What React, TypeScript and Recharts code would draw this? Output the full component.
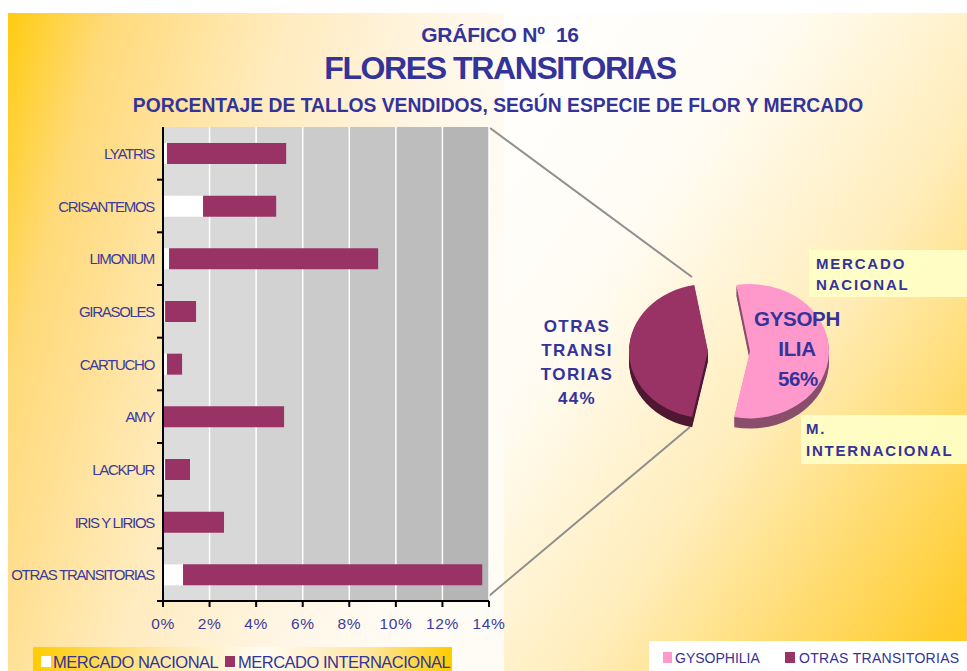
import React from 'react';
import { BarChart, Bar, XAxis, YAxis, CartesianGrid, PieChart, Pie, Cell } from 'recharts';

// ---------- data ----------
const categories = [
  'LYATRIS',
  'CRISANTEMOS',
  'LIMONIUM',
  'GIRASOLES',
  'CARTUCHO',
  'AMY',
  'LACKPUR',
  'IRIS Y LIRIOS',
  'OTRAS TRANSITORIAS',
];
const mercadoNacional = [0.17, 1.72, 0.26, 0.09, 0.17, 0.03, 0.09, 0.03, 0.86];
const mercadoInternacional = [5.12, 3.14, 8.98, 1.33, 0.65, 5.17, 1.07, 2.59, 12.85];
const xTicks = [0, 2, 4, 6, 8, 10, 12, 14];
const barSeriesNames = ['MERCADO NACIONAL', 'MERCADO INTERNACIONAL'];

const pieNames = ['OTRAS TRANSITORIAS', 'GYSOPHILIA'];
const pieValues = [44, 56];
const pieLabelLines = [['OTRAS', 'TRANSI', 'TORIAS'], ['GYSOPH', 'ILIA']];
const legendPieNames = ['GYSOPHILIA', 'OTRAS TRANSITORIAS'];

const titleLines = [
  'GRÁFICO Nº  16',
  'FLORES TRANSITORIAS',
  'PORCENTAJE DE TALLOS VENDIDOS, SEGÚN ESPECIE DE FLOR Y MERCADO',
];
const annotations = [
  ['MERCADO', 'NACIONAL'],
  ['M.', 'INTERNACIONAL'],
];

// ---------- styles ----------
const FONT = '"Liberation Sans", Arial, sans-serif';
const BLUE = '#333399';
const MAROON = '#993366';
const PINK = '#FF99CC';
const bandFills = ['#dcdcdc', '#d8d8d8', '#d2d2d2', '#cbcbcb', '#c5c5c5', '#bdbdbd', '#b5b5b5'];

const barData = categories.map((name, i) => ({
  name,
  nacional: mercadoNacional[i],
  internacional: mercadoInternacional[i],
}));
const pieData = pieNames.map((name, i) => ({ name, value: pieValues[i] }));

const AXIS_X = 163;
const PLOT_TOP = 127;
const PLOT_BOTTOM = 601;
const BAND = (PLOT_BOTTOM - PLOT_TOP) / categories.length;

const YTick = (props: any) => {
  const { y, payload } = props;
  return (
    <g>
      <text
        x={AXIS_X - 9}
        y={y}
        textAnchor="end"
        dominantBaseline="central"
        fontSize={15}
        letterSpacing={-1.3}
        fill="#3b3b9b"
        fontFamily={FONT}
      >
        {payload.value}
      </text>
      <line x1={AXIS_X - 6} x2={AXIS_X} y1={y + BAND / 2} y2={y + BAND / 2} stroke="#000" strokeWidth={2} />
    </g>
  );
};

const depthOffsets = [2, 4, 6, 8, 10, 12];
const PIE_R = 79;

export default function App() {
  return (
    <div style={{ position: 'absolute', left: 0, top: 0, width: 967, height: 671, overflow: 'hidden', background: '#fff' }}>
      {/* backgrounds + connector lines */}
      <svg width={967} height={671} style={{ position: 'absolute', left: 0, top: 0 }}>
        <defs>
          <linearGradient id="leftBg" x1="0" y1="0" x2="1" y2="0.35">
            <stop offset="0%" stopColor="#FFCC10" />
            <stop offset="18%" stopColor="#FFDA7A" />
            <stop offset="50%" stopColor="#FFEBBE" />
            <stop offset="80%" stopColor="#FFF6E6" />
            <stop offset="100%" stopColor="#FFFCF6" />
          </linearGradient>
          <linearGradient id="rightBg" x1="0" y1="0" x2="1" y2="1">
            <stop offset="0%" stopColor="#FFFFFF" />
            <stop offset="30%" stopColor="#FFFCF4" />
            <stop offset="58%" stopColor="#FFEDBA" />
            <stop offset="82%" stopColor="#FFD860" />
            <stop offset="100%" stopColor="#FFC818" />
          </linearGradient>
        </defs>
        <rect x={8} y={13} width={496} height={658} fill="url(#leftBg)" />
        <rect x={504} y={13} width={463} height={658} fill="url(#rightBg)" />
        <line x1={490} y1={128} x2={692} y2={277} stroke="#8f8f8f" strokeWidth={2} />
        <line x1={483} y1={601} x2={690} y2={427} stroke="#8f8f8f" strokeWidth={2} />
      </svg>

      {/* bar chart */}
      <div style={{ position: 'absolute', left: 0, top: 0 }}>
        <BarChart
          width={510}
          height={671}
          layout="vertical"
          data={barData}
          margin={{ top: PLOT_TOP, right: 21, bottom: 40, left: 0 }}
        >
          <CartesianGrid
            horizontal={false}
            vertical
            stroke="#ffffff"
            strokeWidth={1.5}
            verticalFill={bandFills}
            fillOpacity={1}
          />
          <XAxis
            type="number"
            domain={[0, 14]}
            ticks={xTicks}
            interval={0}
            tickFormatter={(v: number) => `${v}%`}
            axisLine={{ stroke: '#000', strokeWidth: 2 }}
            tickLine={{ stroke: '#000', strokeWidth: 2 }}
            tickSize={6}
            tickMargin={11}
            height={30}
            tick={{ fill: '#3b3b9b', fontSize: 15.5, fontFamily: FONT, letterSpacing: 0.6 }}
          />
          <YAxis
            type="category"
            dataKey="name"
            width={AXIS_X}
            interval={0}
            axisLine={{ stroke: '#000', strokeWidth: 2 }}
            tickLine={false}
            tick={<YTick />}
          />
          <Bar dataKey="nacional" name={barSeriesNames[0]} stackId="a" fill="#ffffff" barSize={21} isAnimationActive={false} />
          <Bar dataKey="internacional" name={barSeriesNames[1]} stackId="a" fill={MAROON} barSize={21} isAnimationActive={false} />
        </BarChart>
      </div>

      {/* pie chart (exploded, pseudo 3D) */}
      <div
        style={{
          position: 'absolute',
          left: 574,
          top: 197,
          width: 300,
          height: 300,
          transform: 'scaleY(0.85)',
          transformOrigin: '150px 150px',
        }}
      >
        <PieChart width={300} height={300}>
          {depthOffsets.map((d) => (
            <Pie
              key={`do${d}`}
              data={pieData}
              dataKey="value"
              cx={129}
              cy={150 + d}
              outerRadius={PIE_R}
              startAngle={100}
              endAngle={460}
              stroke="none"
              isAnimationActive={false}
            >
              <Cell fill="#4E1832" />
              <Cell fill="none" />
            </Pie>
          ))}
          {depthOffsets.map((d) => (
            <Pie
              key={`dg${d}`}
              data={pieData}
              dataKey="value"
              cx={171}
              cy={150 + d}
              outerRadius={PIE_R}
              startAngle={100}
              endAngle={460}
              stroke="none"
              isAnimationActive={false}
            >
              <Cell fill="none" />
              <Cell fill="#8A4E6C" />
            </Pie>
          ))}
          <Pie
            data={pieData}
            dataKey="value"
            cx={129}
            cy={150}
            outerRadius={PIE_R}
            startAngle={100}
            endAngle={460}
            stroke="none"
            isAnimationActive={false}
          >
            <Cell fill={MAROON} />
            <Cell fill="none" />
          </Pie>
          <Pie
            data={pieData}
            dataKey="value"
            cx={171}
            cy={150}
            outerRadius={PIE_R}
            startAngle={100}
            endAngle={460}
            stroke="none"
            isAnimationActive={false}
          >
            <Cell fill="none" />
            <Cell fill={PINK} />
          </Pie>
        </PieChart>
      </div>

      {/* texts, annotations, legends */}
      <svg width={967} height={671} style={{ position: 'absolute', left: 0, top: 0, pointerEvents: 'none' }}>
        <defs>
          <linearGradient id="legBg" x1="0" y1="0" x2="1" y2="0">
            <stop offset="0%" stopColor="#FFCC00" />
            <stop offset="30%" stopColor="#FFE8A4" />
            <stop offset="55%" stopColor="#FFFCF4" />
            <stop offset="80%" stopColor="#FFE6A0" />
            <stop offset="100%" stopColor="#FFCC00" />
          </linearGradient>
        </defs>
        <g fontFamily={FONT} fontWeight="bold" fill={BLUE} textAnchor="middle">
          <text x={500} y={34} fontSize={21} dominantBaseline="central" letterSpacing={-0.2} style={{ whiteSpace: 'pre' }}>{titleLines[0]}</text>
          <text x={500} y={68} fontSize={32} dominantBaseline="central" letterSpacing={-1.4}>{titleLines[1]}</text>
          <text x={498} y={105} fontSize={19.3} dominantBaseline="central" letterSpacing={0}>{titleLines[2]}</text>
        </g>

        {/* annotation boxes */}
        <rect x={809} y={250} width={158} height={47} fill="#FFFFC8" fillOpacity={0.92} />
        <rect x={801} y={415} width={166} height={49} fill="#FFFFC8" fillOpacity={0.92} />
        <g fontFamily={FONT} fontWeight="bold" fill={BLUE} fontSize={15} letterSpacing={1.8}>
          <text x={816} y={263} dominantBaseline="central">{annotations[0][0]}</text>
          <text x={816} y={284} dominantBaseline="central">{annotations[0][1]}</text>
          <text x={806} y={428} dominantBaseline="central">{annotations[1][0]}</text>
          <text x={806} y={450} dominantBaseline="central">{annotations[1][1]}</text>
        </g>

        {/* pie labels */}
        <g fontFamily={FONT} fontWeight="bold" fill={BLUE} textAnchor="middle" fontSize={17} letterSpacing={1.4}>
          {pieLabelLines[0].map((t, i) => (
            <text key={t} x={577} y={326 + i * 24} dominantBaseline="central">{t}</text>
          ))}
          <text x={577} y={398} dominantBaseline="central">{`${pieValues[0]}%`}</text>
        </g>
        <g fontFamily={FONT} fontWeight="bold" fill={BLUE} textAnchor="middle" fontSize={20.5} letterSpacing={-0.3}>
          {pieLabelLines[1].map((t, i) => (
            <text key={t} x={797} y={318 + i * 30} dominantBaseline="central">{t}</text>
          ))}
          <text x={798} y={378} dominantBaseline="central">{`${pieValues[1]}%`}</text>
        </g>

        {/* left legend */}
        <rect x={33} y={647} width={419} height={30} fill="url(#legBg)" />
        <rect x={41} y={656} width={10} height={11} fill="#ffffff" />
        <rect x={225} y={656} width={10} height={11} fill={MAROON} />
        <g fontFamily={FONT} fill={BLUE} fontSize={16.5} letterSpacing={-0.5}>
          <text x={53} y={662} dominantBaseline="central">{barSeriesNames[0]}</text>
          <text x={238} y={662} dominantBaseline="central">{barSeriesNames[1]}</text>
        </g>

        {/* right legend */}
        <rect x={649} y={641} width={318} height={30} fill="#ffffff" />
        <rect x={663} y={652} width={9} height={11} fill={PINK} />
        <rect x={785} y={652} width={10} height={11} fill={MAROON} />
        <g fontFamily={FONT} fill={BLUE} fontSize={14}>
          <text x={675} y={658} dominantBaseline="central">{legendPieNames[0]}</text>
          <text x={799} y={658} dominantBaseline="central" letterSpacing={0.3}>{legendPieNames[1]}</text>
        </g>
      </svg>
    </div>
  );
}
